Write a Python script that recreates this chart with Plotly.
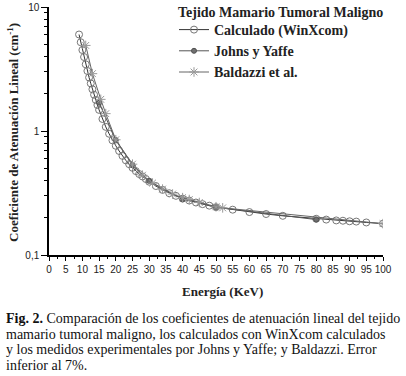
import plotly.graph_objects as go

# WinXcom calculated
winx_E = [9, 9.5, 10, 10.5, 11, 11.5, 12, 12.5, 13, 13.5, 14, 14.5, 15, 16, 17, 18, 19, 20,
          21, 22, 23, 24, 25, 26, 27, 28, 29, 30, 32, 34, 36, 38, 40, 42, 44, 46, 48, 50,
          55, 60, 65, 70, 80, 83, 86, 88, 90, 92, 95, 100]
winx_mu = [6.0, 5.2, 4.5, 3.95, 3.45, 3.05, 2.7, 2.42, 2.17, 1.96, 1.78, 1.62, 1.48, 1.25, 1.08,
           0.95, 0.84, 0.76, 0.69, 0.63, 0.58, 0.54, 0.505, 0.475, 0.45, 0.43, 0.41, 0.39,
           0.36, 0.335, 0.315, 0.30, 0.285, 0.275, 0.265, 0.257, 0.25, 0.243,
           0.232, 0.222, 0.214, 0.207, 0.196, 0.193, 0.190, 0.189, 0.187, 0.186, 0.183, 0.179]

# Johns y Yaffe
jy_E = [15, 20, 25, 30, 40, 50, 80]
jy_mu = [1.69, 0.845, 0.53, 0.395, 0.282, 0.243, 0.193]

# Baldazzi et al.
bal_E = [11, 13, 15.5, 17, 20, 25, 28, 31, 34, 37, 40, 42, 45, 50, 52, 100]
bal_mu = [4.9, 2.9, 1.8, 1.38, 0.85, 0.54, 0.44, 0.38, 0.34, 0.31, 0.29, 0.28, 0.265, 0.245, 0.24, 0.179]

x_ticks = list(range(0, 101, 5))
y_tickvals = [0.1, 1, 10]
y_ticktext = ["0,1", "1", "10"]

serif = "Liberation Serif, Times New Roman, serif"
sans = "Liberation Sans, Arial, sans-serif"

L, R, T, B = 49, 383, 7, 255
PW, PH = R - L, B - T

fig = go.Figure()
fig.add_trace(go.Scatter(
    x=winx_E, y=winx_mu, mode="lines+markers", name="<b>Calculado (WinXcom)</b>",
    line=dict(color="#333333", width=1),
    marker=dict(symbol="circle-open", size=7, color="#777777", line=dict(width=1))))
fig.add_trace(go.Scatter(
    x=jy_E, y=jy_mu, mode="lines+markers", name="<b>Johns y Yaffe</b>",
    line=dict(color="#555555", width=1),
    marker=dict(symbol="circle", size=5, color="#707070", line=dict(width=1, color="#505050"))))
fig.add_trace(go.Scatter(
    x=bal_E, y=bal_mu, mode="lines+markers", name="<b>Baldazzi et al.</b>",
    line=dict(color="#666666", width=1),
    marker=dict(symbol="asterisk-open", size=8, color="#999999", line=dict(width=1, color="#999999"))))

fig.update_layout(
    width=406, height=376,
    margin=dict(l=L, r=406 - R, t=T, b=376 - B, autoexpand=False),
    paper_bgcolor="white", plot_bgcolor="white",
    showlegend=True,
    legend=dict(
        font=dict(family=serif, size=14, color="#222"),
        x=(174 - L) / PW, y=(B - 14) / PH, xanchor="left", yanchor="top",
        bgcolor="rgba(0,0,0,0)", tracegroupgap=0, itemwidth=30),
    xaxis=dict(
        range=[0, 100], tickvals=x_ticks, ticks="outside", ticklen=4, tickwidth=1,
        tickcolor="black", showline=True, linecolor="black", linewidth=1.5,
        showgrid=False, zeroline=False, automargin=False,
        tickfont=dict(family=sans, size=10, color="#222"),
        minor=dict(dtick=2.5, ticks="outside", ticklen=2, tickcolor="black", showgrid=False)),
    yaxis=dict(
        type="log", range=[-1, 1], tickvals=y_tickvals, ticktext=y_ticktext,
        ticks="outside", ticklen=6, tickwidth=1, tickcolor="black",
        showline=True, linecolor="black", linewidth=1.5, showgrid=False, zeroline=False,
        automargin=False,
        tickfont=dict(family=sans, size=10, color="#222"),
        minor=dict(ticks="outside", ticklen=3, tickcolor="black", showgrid=False,
                   tickvals=[0.2, 0.3, 0.4, 0.5, 0.6, 0.7, 0.8, 0.9, 2, 3, 4, 5, 6, 7, 8, 9])),
)

# legend title
fig.add_annotation(text="<b>Tejido Mamario Tumoral Maligno</b>", xref="paper", yref="paper",
                   x=(176 - L) / PW, y=(B - 13) / PH, xanchor="left", yanchor="middle",
                   showarrow=False, font=dict(family=serif, size=14, color="#222"))

# axis titles
fig.add_annotation(text="<b>Energía (KeV)</b>", xref="paper", yref="paper",
                   x=(222 - L) / PW, y=(B - 291) / PH, xanchor="center", yanchor="middle",
                   showarrow=False, font=dict(family=serif, size=13, color="#222"))
fig.add_annotation(text="<b>Coeficiente de Atenuación Lineal (cm<sup>-1</sup>)</b>", xref="paper", yref="paper",
                   x=(13 - L) / PW, y=(B - 133) / PH, xanchor="center", yanchor="middle", textangle=-90,
                   showarrow=False, font=dict(family=serif, size=13, color="#222"))

caption = [
    "<b>Fig. 2.</b> Comparación de los coeficientes de atenuación lineal del tejido",
    "mamario tumoral maligno, los calculados con WinXcom calculados",
    "y los medidos experimentales por Johns y Yaffe; y Baldazzi. Error",
    "inferior al 7%.",
]
cap_y = [318, 334, 349, 365]
for txt, yp in zip(caption, cap_y):
    fig.add_annotation(text=txt, xref="paper", yref="paper",
                       x=(4 - L) / PW, y=(B - yp) / PH, xanchor="left", yanchor="middle",
                       showarrow=False, font=dict(family=serif, size=14, color="#111"))

fig.write_html("out.html", config={"displayModeBar": False},
               post_script="document.body.style.margin='0';")
